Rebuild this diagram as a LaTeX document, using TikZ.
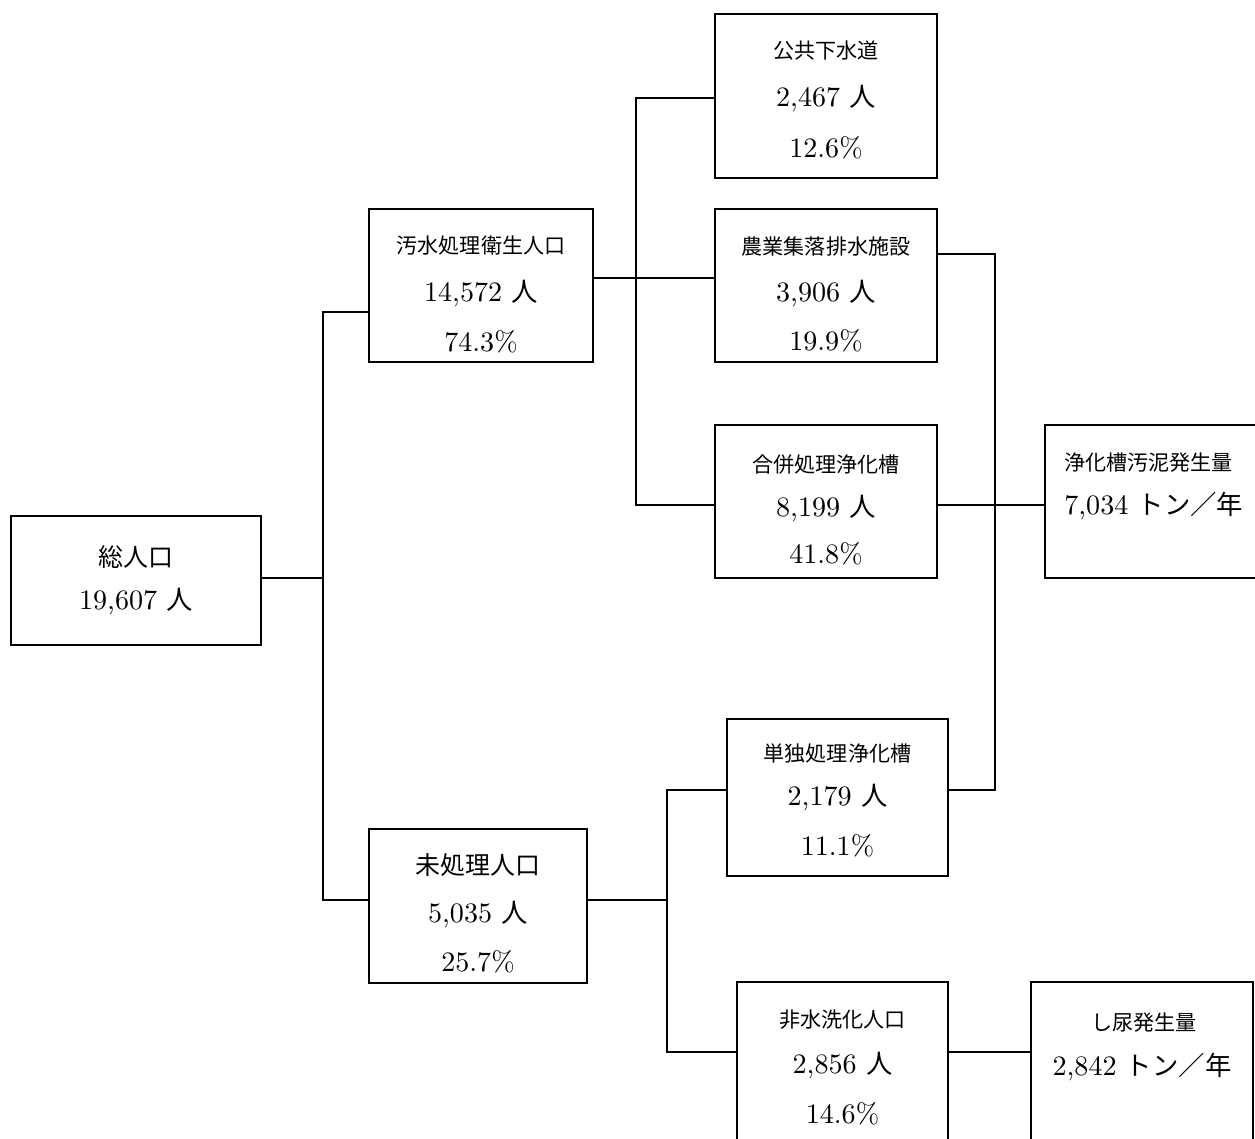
\documentclass[tikz,border=0pt]{standalone}
\usepackage{fontspec}
\setmainfont{lmroman10-regular}[Extension=.otf]
\newfontfamily\cjk{Noto Sans CJK JP}
\newcommand\jn[1]{{\fontsize{15}{15}\selectfont\cjk #1}}
\begin{document}
\begin{tikzpicture}[x=0.02cm,y=-0.02cm,
  box/.style={draw,line width=1.2pt,inner sep=0,outer sep=0},
  conn/.style={line width=1.1pt},
  ts/.style={inner sep=0,font=\fontsize{12}{12}\selectfont\cjk},
  tl/.style={inner sep=0,font=\fontsize{14.2}{14}\selectfont\cjk},
  tn/.style={inner sep=0,font=\fontsize{16}{16}\selectfont}]
\clip (0,0) rectangle (1255,1139);
\fill[white] (0,0) rectangle (1255,1139);
% boxes
\node[box,minimum width=250*0.02cm,minimum height=129*0.02cm] (tot) at (136,580.5) {};
\node[box,minimum width=224*0.02cm,minimum height=153*0.02cm] (osui) at (481,285.5) {};
\node[box,minimum width=222*0.02cm,minimum height=164*0.02cm] (kokyo) at (826,96) {};
\node[box,minimum width=222*0.02cm,minimum height=153*0.02cm] (noson) at (826,285.5) {};
\node[box,minimum width=222*0.02cm,minimum height=153*0.02cm] (gappei) at (826,501.5) {};
\node[box,minimum width=260*0.02cm,minimum height=153*0.02cm] (odei) at (1175,501.5) {};
\node[box,minimum width=218*0.02cm,minimum height=154*0.02cm] (mishori) at (478,906) {};
\node[box,minimum width=221*0.02cm,minimum height=157*0.02cm] (tandoku) at (837.5,797.5) {};
\node[box,minimum width=211*0.02cm,minimum height=188*0.02cm] (hisuisen) at (842.5,1076) {};
\node[box,minimum width=222*0.02cm,minimum height=188*0.02cm] (shinyo) at (1142,1076) {};
% texts
\node[tl] (tot-a) at (136,557) {総人口};
\node[tn] (tot-b) at (136,602) {19,607 \jn{人}};
\node[ts] (osui-a) at (481,245) {汚水処理衛生人口};
\node[tn] (osui-b) at (481,294) {14,572 \jn{人}};
\node[tn] (osui-c) at (481,342) {74.3\%};
\node[ts] (kokyo-a) at (826,51) {公共下水道};
\node[tn] (kokyo-b) at (826,99) {2,467 \jn{人}};
\node[tn] (kokyo-c) at (826,148) {12.6\%};
\node[ts] (noson-a) at (826,246) {農業集落排水施設};
\node[tn] (noson-b) at (826,294) {3,906 \jn{人}};
\node[tn] (noson-c) at (826,341) {19.9\%};
\node[ts] (gappei-a) at (826,465) {合併処理浄化槽};
\node[tn] (gappei-b) at (826,509) {8,199 \jn{人}};
\node[tn] (gappei-c) at (826,554) {41.8\%};
\node[ts,anchor=west] (odei-a) at (1064,463) {浄化槽汚泥発生量};
\node[tn,anchor=west] (odei-b) at (1064,506) {7,034 \jn{トン／年}};
\node[tl] (mishori-a) at (478,865) {未処理人口};
\node[tn] (mishori-b) at (478,915) {5,035 \jn{人}};
\node[tn] (mishori-c) at (478,962) {25.7\%};
\node[ts] (tandoku-a) at (837.5,754) {単独処理浄化槽};
\node[tn] (tandoku-b) at (837.5,798) {2,179 \jn{人}};
\node[tn] (tandoku-c) at (837.5,846) {11.1\%};
\node[ts] (hisuisen-a) at (842.5,1020) {非水洗化人口};
\node[tn] (hisuisen-b) at (842.5,1066) {2,856 \jn{人}};
\node[tn] (hisuisen-c) at (842.5,1114) {14.6\%};
\node[ts] (shinyo-a) at (1144,1023) {し尿発生量};
\node[tn] (shinyo-b) at (1142,1067) {2,842 \jn{トン／年}};
% junctions
\coordinate (j1) at (323,578);
\coordinate (j1a) at (323,312);
\coordinate (j1b) at (323,900);
\coordinate (j2) at (636,278);
\coordinate (j2a) at (636,98);
\coordinate (j2b) at (636,505);
\coordinate (j3) at (995,254);
\coordinate (j3b) at (995,790);
\coordinate (j4) at (667,900);
\coordinate (j4a) at (667,790);
\coordinate (j4b) at (667,1052);
% connectors
\draw[conn] (tot.east |- j1) -- (j1);
\draw[conn] (j1a -| osui.west) -- (j1a) -- (j1b) -- (j1b -| mishori.west);
\draw[conn] (osui.east |- j2) -- (noson.west |- j2);
\draw[conn] (j2a -| kokyo.west) -- (j2a) -- (j2b) -- (j2b -| gappei.west);
\draw[conn] (gappei.east |- j2b) -- (odei.west |- j2b);
\draw[conn] (noson.east |- j3) -- (j3) -- (j3b) -- (tandoku.east |- j3b);
\draw[conn] (mishori.east |- j4) -- (j4);
\draw[conn] (j4a -| tandoku.west) -- (j4a) -- (j4b) -- (j4b -| hisuisen.west);
\draw[conn] (hisuisen.east |- j4b) -- (shinyo.west |- j4b);
\end{tikzpicture}
\end{document}
